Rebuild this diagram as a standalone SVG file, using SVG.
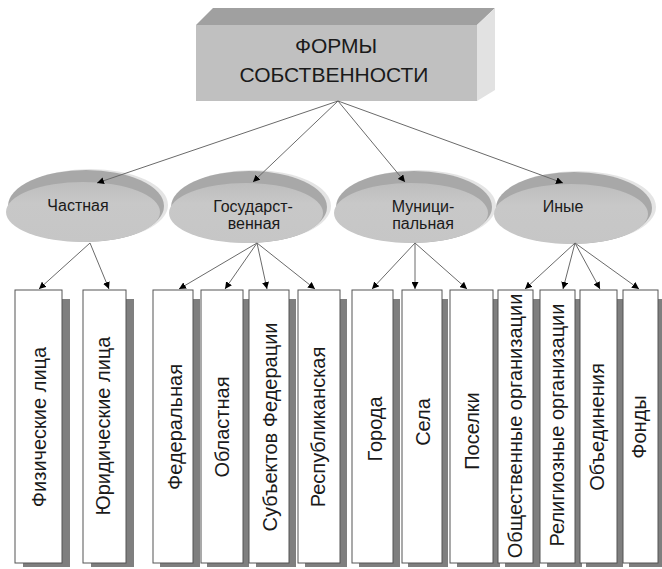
<svg xmlns="http://www.w3.org/2000/svg" width="662" height="569" viewBox="0 0 662 569">
<style>
.t{font-family:"Liberation Sans",Arial,sans-serif;fill:#1a1a1a}
.top{font-size:21px;text-anchor:middle}
.el{font-size:16px;text-anchor:middle}
.v{font-size:20px;text-anchor:middle;dominant-baseline:central}
.box{fill:#ffffff;stroke:#555555;stroke-width:1}
.sh{fill:#7f7f7f}
.rim{fill:#e4e4e4}
.outer{fill:#a8a8a8}
.inner{fill:url(#lg)}
.c{stroke:#6a6a6a;stroke-width:1;fill:none;marker-end:url(#ah)}
</style>
<defs>
<marker id="ah" viewBox="0 0 10 10" refX="10" refY="5" markerWidth="7" markerHeight="7" markerUnits="userSpaceOnUse" orient="auto">
<path d="M0,0 L10,5 L0,10 z" fill="#000"/>
</marker>
<linearGradient id="lg" x1="0" y1="0" x2="0" y2="1">
<stop offset="0" stop-color="#bdbdbd"/>
<stop offset="0.35" stop-color="#c8c8c8"/>
<stop offset="1" stop-color="#c6c6c6"/>
</linearGradient>
</defs>
<rect width="662" height="569" fill="#ffffff"/>

<g id="root">
<polygon points="196,25 213,8 495,8 477,25" fill="#a0a0a0"/>
<polygon points="477,25 495,8 495,90 477,101" fill="#e2e2e2"/>
<rect x="196" y="25" width="281" height="76" fill="#c0c0c0"/>
<text class="t top" x="336" y="53">ФОРМЫ</text>
<text class="t top" x="334" y="82">СОБСТВЕННОСТИ</text>
</g>

<g id="private">
<ellipse class="rim" cx="90" cy="205" rx="78" ry="36"/>
<ellipse class="outer" cx="86" cy="206" rx="78" ry="36"/>
<ellipse class="inner" cx="83" cy="212" rx="77" ry="30"/>
<text class="t el" x="78" y="211">Частная</text>
</g>
<g id="state">
<ellipse class="rim" cx="253" cy="206" rx="78" ry="36"/>
<ellipse class="outer" cx="249" cy="207" rx="78" ry="36"/>
<ellipse class="inner" cx="246" cy="213" rx="77" ry="30"/>
<text class="t el" x="253" y="212">Государст-</text>
<text class="t el" x="254" y="229">венная</text>
</g>
<g id="municipal">
<ellipse class="rim" cx="418" cy="206" rx="78" ry="36"/>
<ellipse class="outer" cx="414" cy="207" rx="78" ry="36"/>
<ellipse class="inner" cx="411" cy="213" rx="77" ry="30"/>
<text class="t el" x="423" y="212">Муници-</text>
<text class="t el" x="423" y="229">пальная</text>
</g>
<g id="other">
<ellipse class="rim" cx="578" cy="207" rx="78" ry="36"/>
<ellipse class="outer" cx="574" cy="208" rx="78" ry="36"/>
<ellipse class="inner" cx="571" cy="214" rx="77" ry="30"/>
<text class="t el" x="563" y="212">Иные</text>
</g>

<g id="connectors">
<line class="c" x1="338" y1="101" x2="97" y2="183"/>
<line class="c" x1="338" y1="101" x2="253" y2="182"/>
<line class="c" x1="338" y1="101" x2="405" y2="182"/>
<line class="c" x1="338" y1="101" x2="563" y2="183"/>
<line class="c" x1="90" y1="243" x2="39" y2="289"/>
<line class="c" x1="90" y1="243" x2="109" y2="289"/>
<line class="c" x1="257" y1="243" x2="179" y2="289"/>
<line class="c" x1="257" y1="243" x2="225" y2="289"/>
<line class="c" x1="257" y1="243" x2="267" y2="289"/>
<line class="c" x1="257" y1="243" x2="315" y2="289"/>
<line class="c" x1="415" y1="243" x2="372" y2="289"/>
<line class="c" x1="415" y1="243" x2="415" y2="289"/>
<line class="c" x1="415" y1="243" x2="467" y2="289"/>
<line class="c" x1="575" y1="243" x2="525" y2="289"/>
<line class="c" x1="575" y1="243" x2="563" y2="289"/>
<line class="c" x1="575" y1="243" x2="600" y2="289"/>
<line class="c" x1="575" y1="243" x2="639" y2="289"/>
</g>

<g id="b1"><rect class="sh" x="23" y="299" width="47" height="268"/><rect class="box" x="15" y="290" width="47" height="273"/><text class="t v" transform="translate(39,427) rotate(-90)">Физические лица</text></g>
<g id="b2"><rect class="sh" x="91" y="299" width="43" height="268"/><rect class="box" x="83" y="290" width="43" height="273"/><text class="t v" transform="translate(103,426) rotate(-90)">Юридические лица</text></g>
<g id="b3"><rect class="sh" x="160" y="299" width="40" height="268"/><rect class="box" x="153" y="290" width="40" height="273"/><text class="t v" transform="translate(175,427) rotate(-90)">Федеральная</text></g>
<g id="b4"><rect class="sh" x="207" y="299" width="42" height="268"/><rect class="box" x="201" y="290" width="42" height="273"/><text class="t v" transform="translate(222,427) rotate(-90)">Областная</text></g>
<g id="b5"><rect class="sh" x="256" y="299" width="40" height="268"/><rect class="box" x="249" y="290" width="40" height="273"/><text class="t v" transform="translate(270,427) rotate(-90)">Субъектов Федерации</text></g>
<g id="b6"><rect class="sh" x="305" y="299" width="42" height="268"/><rect class="box" x="298" y="290" width="42" height="273"/><text class="t v" transform="translate(318,427) rotate(-90)">Республиканская</text></g>
<g id="b7"><rect class="sh" x="359" y="299" width="41" height="268"/><rect class="box" x="352" y="290" width="41" height="273"/><text class="t v" transform="translate(375,429) rotate(-90)">Города</text></g>
<g id="b8"><rect class="sh" x="408" y="299" width="40" height="268"/><rect class="box" x="402" y="290" width="40" height="273"/><text class="t v" transform="translate(423,422) rotate(-90)">Села</text></g>
<g id="b9"><rect class="sh" x="457" y="299" width="43" height="268"/><rect class="box" x="450" y="290" width="43" height="273"/><text class="t v" transform="translate(472,431) rotate(-90)">Поселки</text></g>
<g id="b10"><rect class="sh" x="505" y="299" width="35" height="268"/><rect class="box" x="498" y="290" width="35" height="273"/><text class="t v" transform="translate(515,426) rotate(-90)">Общественные организации</text></g>
<g id="b11"><rect class="sh" x="547" y="299" width="35" height="268"/><rect class="box" x="540" y="290" width="35" height="273"/><text class="t v" transform="translate(557,425) rotate(-90)">Религиозные организации</text></g>
<g id="b12"><rect class="sh" x="586" y="299" width="37" height="268"/><rect class="box" x="580" y="290" width="37" height="273"/><text class="t v" transform="translate(597,427) rotate(-90)">Объединения</text></g>
<g id="b13"><rect class="sh" x="629" y="299" width="35" height="268"/><rect class="box" x="623" y="290" width="35" height="273"/><text class="t v" transform="translate(639,427) rotate(-90)">Фонды</text></g>
</svg>
